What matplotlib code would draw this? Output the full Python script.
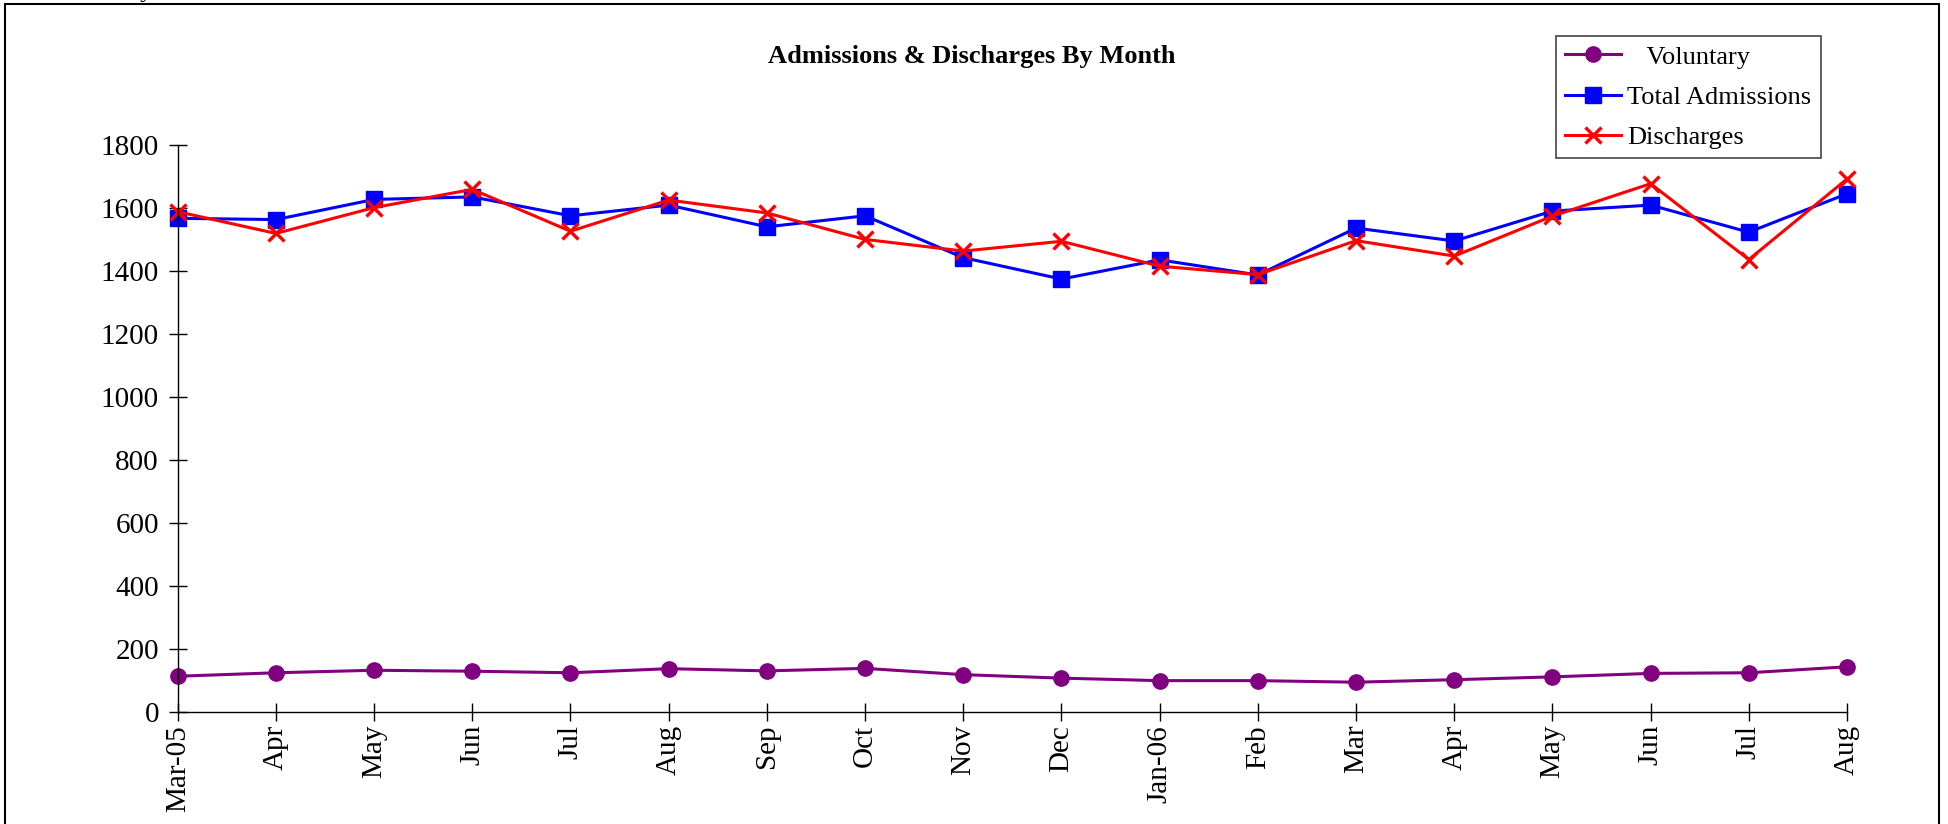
import matplotlib
matplotlib.use("Agg")
import matplotlib.pyplot as plt
from matplotlib.patches import Rectangle

months = ["Mar-05", "Apr", "May", "Jun", "Jul", "Aug", "Sep", "Oct", "Nov",
          "Dec", "Jan-06", "Feb", "Mar", "Apr", "May", "Jun", "Jul", "Aug"]
voluntary = [113, 124, 132, 129, 124, 137, 130, 138, 118, 107, 99, 99, 94, 102, 111, 122, 124, 143]
total_admissions = [1568, 1564, 1628, 1636, 1576, 1610, 1541, 1576, 1443, 1375, 1436, 1388,
                    1537, 1496, 1591, 1610, 1524, 1646]
discharges = [1589, 1520, 1602, 1660, 1527, 1626, 1585, 1501, 1464, 1495, 1416, 1389,
              1497, 1448, 1575, 1678, 1437, 1693]

plt.rcParams['font.family'] = ['Liberation Serif', 'DejaVu Serif']
plt.rcParams['font.size'] = 19

W, H = 1948, 824
fig = plt.figure(figsize=(W / 100, H / 100), dpi=100)
ax = fig.add_axes([177.7 / W, 1 - 711.8 / H, (1847 - 177.7) / W, (711.8 - 145.3) / H])

x = list(range(len(months)))
ax.plot(x, voluntary, color='#800080', lw=2.2, marker='o', ms=11, clip_on=False,
        label='   Voluntary')
ax.plot(x, total_admissions, color='#0000FF', lw=2.2, marker='s', ms=11, clip_on=False,
        label='Total Admissions')
ax.plot(x, discharges, color='#FF0000', lw=2.2, marker='x', ms=12, mew=2.4, clip_on=False,
        label='Discharges')

ax.set_xlim(0, len(months) - 1)
ax.set_ylim(0, 1800)
ax.set_yticks(range(0, 1801, 200))
ax.set_xticks(x)
ax.set_xticklabels(months, rotation=90)
ax.spines['top'].set_visible(False)
ax.spines['right'].set_visible(False)
for s in ('left', 'bottom'):
    ax.spines[s].set_linewidth(1.0)
ax.tick_params(axis='both', direction='inout', length=13, width=1.0, labelsize=21)
ax.tick_params(axis='y', pad=7)
ax.tick_params(axis='x', pad=3)

fig.text(971.5 / W, 1 - 57 / H, "Admissions & Discharges By Month",
         ha='center', va='center', fontsize=19, fontweight='bold')

leg = fig.legend(loc='upper left', bbox_to_anchor=(1556 / W, 1 - 36 / H),
                 bbox_transform=fig.transFigure, borderaxespad=0, fancybox=False,
                 framealpha=1, edgecolor='#444444', handlelength=2.1,
                 handletextpad=0.25, labelspacing=0.63, borderpad=0.35, fontsize=19)
leg.get_frame().set_linewidth(1.2)

# outer frame, bottom edge runs off the image
fig.add_artist(Rectangle((5 / W, -0.1), (1939 - 5) / W, 1.1 - 4 / H,
                         transform=fig.transFigure, fill=False, ec='black', lw=1.5))
fig.text(140 / W, 1 + 3 / H, "y", ha='left', va='baseline', fontsize=19)

fig.savefig("out.png", dpi=100)
